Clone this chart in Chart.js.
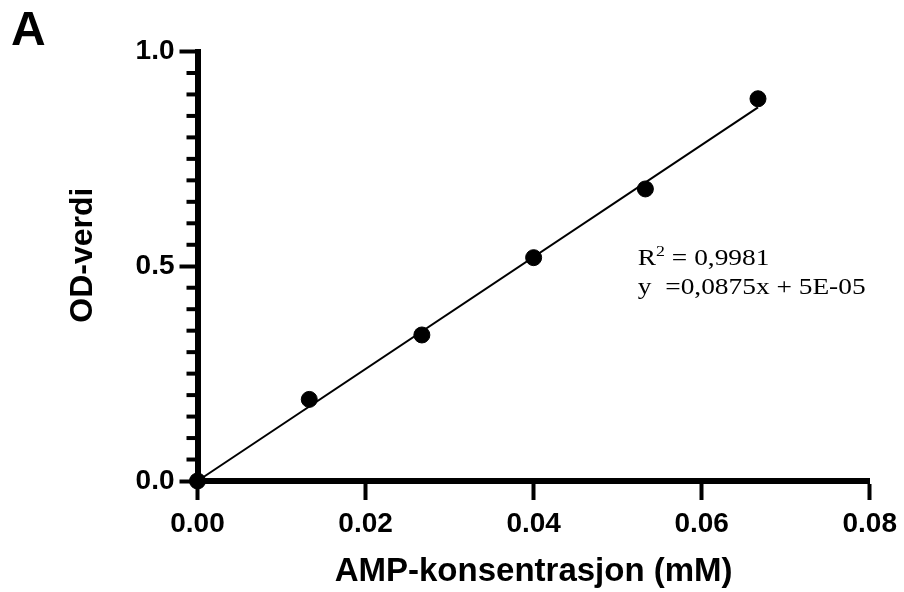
<!DOCTYPE html>
<html>
<head>
<meta charset="utf-8">
<script src="https://cdn.jsdelivr.net/npm/chart.js@4"></script>
<style>
  html, body { margin: 0; padding: 0; background: #fff; }
</style>
</head>
<body>
<canvas id="myChart" width="904" height="592"></canvas>
<script>
// AMP standard curve (OD vs concentration)
const ampConc = [0, 0.0133, 0.0267, 0.04, 0.0533, 0.0667];
const odValues = [0, 0.19, 0.34, 0.52, 0.68, 0.89];

// fitted line, start and end
const fitX = [0, 0.0667];
const fitY = [0, 0.87];

const xTicks = [0, 0.02, 0.04, 0.06, 0.08];
const yTicks = [0, 0.5, 1.0];
const yMinorStep = 0.05;

const fitLines = ['= 0,9981', 'y  =0,0875x + 5E-05'];
const yTitle = 'OD-verdi';

const sans = "'Liberation Sans', Arial, sans-serif";
const serif = "'Liberation Serif', 'Times New Roman', serif";

// short minor ticks on the y axis
const minorTicks = {
    id: 'minorTicks',
    beforeDatasetsDraw(chart) {
        const y = chart.scales.y;
        const c = chart.ctx;
        const left = chart.chartArea.left;
        c.save();
        c.strokeStyle = '#000';
        c.lineWidth = 4;
        for (let i = 1; i * yMinorStep < y.max; i++) {
            if (i % 10 === 0) continue;
            const py = y.getPixelForValue(i * yMinorStep);
            c.beginPath();
            c.moveTo(left - 11, py);
            c.lineTo(left, py);
            c.stroke();
        }
        c.restore();
    }
};

// panel letter, y title and regression text
const labels = {
    id: 'labels',
    afterDraw(chart) {
        const c = chart.ctx;
        const x = chart.scales.x, y = chart.scales.y;
        c.save();
        c.fillStyle = '#000';
        c.textBaseline = 'alphabetic';
        c.font = 'bold 48px ' + sans;
        c.fillText('A', 11, 45);

        // y title sits a bit above the axis centre in the original
        c.save();
        c.translate(83, y.getPixelForValue(0.526));
        c.rotate(-Math.PI / 2);
        c.textAlign = 'center';
        c.textBaseline = 'middle';
        c.font = 'bold 32px ' + sans;
        c.fillText(yTitle, 0, 0);
        c.restore();

        const tx = x.getPixelForValue(0.0524);
        const ty1 = y.getPixelForValue(0.503);
        const ty2 = y.getPixelForValue(0.435);
        const stretch = 1.19;

        c.save();
        c.translate(tx, ty1);
        c.scale(stretch, 1);
        c.font = '23px ' + serif;
        c.fillText('R', 0, 0);
        let w = c.measureText('R').width;
        c.font = '15px ' + serif;
        c.fillText('2', w, -9);
        w += c.measureText('2').width;
        c.font = '23px ' + serif;
        c.fillText(' ' + fitLines[0], w, 0);
        c.restore();

        c.save();
        c.translate(tx, ty2);
        c.scale(stretch, 1);
        c.font = '23px ' + serif;
        c.fillText(fitLines[1], 0, 0);
        c.restore();

        c.restore();
    }
};

const ctx = document.getElementById('myChart').getContext('2d');
new Chart(ctx, {
    type: 'scatter',
    data: {
        datasets: [
            {
                data: fitX.map((v, i) => ({ x: v, y: fitY[i] })),
                showLine: true,
                borderColor: '#000',
                borderWidth: 2,
                pointRadius: 0,
                clip: false,
                order: 2
            },
            {
                data: ampConc.map((v, i) => ({ x: v, y: odValues[i] })),
                backgroundColor: '#000',
                borderColor: '#000',
                pointRadius: 8,
                pointHoverRadius: 8,
                clip: false,
                order: 1
            }
        ]
    },
    options: {
        responsive: false,
        animation: false,
        devicePixelRatio: 1,
        layout: { padding: { top: 51.5, right: 31.5, left: 0, bottom: 0 } },
        plugins: { legend: { display: false }, tooltip: { enabled: false } },
        scales: {
            x: {
                type: 'linear',
                min: 0,
                max: 0.08,
                afterBuildTicks: s => { s.ticks = xTicks.map(v => ({ value: v })); },
                afterFit: s => { s.height = 111; },
                ticks: {
                    callback: v => v.toFixed(2),
                    color: '#000',
                    font: { family: sans, size: 28, weight: 'bold' },
                    padding: 7,
                    maxRotation: 0
                },
                grid: { drawOnChartArea: false, tickLength: 19, tickWidth: 4, tickColor: '#000' },
                border: { width: 6, color: '#000' },
                title: {
                    display: true,
                    text: 'AMP-konsentrasjon (mM)',
                    color: '#000',
                    font: { family: sans, size: 33, weight: 'bold' },
                    padding: { top: 3, bottom: 0 }
                }
            },
            y: {
                type: 'linear',
                min: 0,
                max: 1.0,
                afterBuildTicks: s => { s.ticks = yTicks.map(v => ({ value: v })); },
                afterFit: s => { s.width = 197.5; },
                ticks: {
                    callback: v => v.toFixed(1),
                    color: '#000',
                    font: { family: sans, size: 28, weight: 'bold' },
                    padding: 5
                },
                grid: { drawOnChartArea: false, tickLength: 18, tickWidth: 4, tickColor: '#000' },
                border: { width: 6, color: '#000' }
            }
        }
    },
    plugins: [minorTicks, labels]
});
</script>
</body>
</html>
